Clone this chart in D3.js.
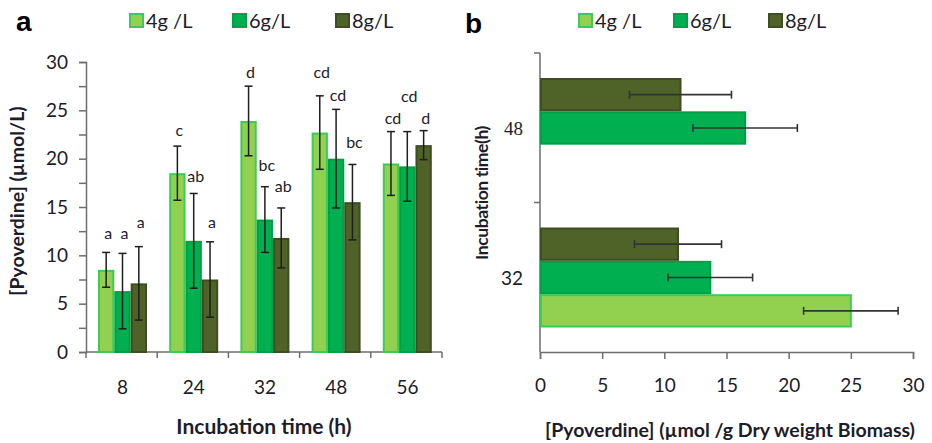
<!DOCTYPE html>
<html>
<head>
<meta charset="utf-8">
<script src="https://cdn.jsdelivr.net/npm/d3@7"></script>
<style>
  body { margin: 0; background: #fff; }
  svg { display: block; font-family: Lato, "Open Sans", sans-serif; }
  .axis path, .axis line { stroke: #6e6e6e; stroke-width: 1.5; }
  .axis text { fill: #1c1c2a; font-family: Lato, sans-serif; font-size: 19px; }
</style>
</head>
<body>
<div id="chart"></div>
<script>
// panel a data: pyoverdine (µmol/L) per incubation time
const timesA = ["8", "24", "32", "48", "56"];
const seriesNames = ["4g/L", "6g/L", "8g/L"];
const legendLabels = ["4g /L", "6g/L", "8g/L"];
const meanA4 = [8.5, 18.5, 23.9, 22.7, 19.5];
const sdA4 = [1.8, 2.8, 3.6, 3.8, 3.3];
const meanA6 = [6.3, 11.5, 13.7, 20.0, 19.2];
const sdA6 = [3.9, 4.9, 3.4, 5.1, 3.6];
const meanA8 = [7.1, 7.5, 11.8, 15.5, 21.4];
const sdA8 = [3.8, 3.9, 3.1, 3.9, 1.5];
const lettersA4 = ["a", "c", "d", "cd", "cd"];
const lettersA6 = ["a", "ab", "bc", "cd", "cd"];
const lettersA8 = ["a", "a", "ab", "bc", "d"];
// height (in µmol/L) where each letter sits
const letterAtA4 = [12.3, 22.9, 28.9, 28.9, 24.2];
const letterAtA6 = [12.3, 18.2, 19.3, 26.5, 26.4];
const letterAtA8 = [13.4, 13.4, 17.1, 21.7, 24.2];
const ticksA = [0, 2.5, 5, 7.5, 10, 12.5, 15, 17.5, 20, 22.5, 25, 27.5, 30];

// panel b data: pyoverdine (µmol/g dry weight biomass)
const timesB = ["48", "32"];
const meanB4 = [null, 25.0];
const sdB4 = [null, 3.8];
const meanB6 = [16.5, 13.7];
const sdB6 = [4.2, 3.4];
const meanB8 = [11.3, 11.1];
const sdB8 = [4.1, 3.5];
const ticksB = [0, 5, 10, 15, 20, 25, 30];

const fills = ["#92d050", "#00b050", "#4f6228"];
const strokes = ["#3ccc55", "#00a044", "#3f4d22"];

let width = 932, height = 443;
let svg = d3.select("#chart").append("svg")
    .attr("width", width)
    .attr("height", height);

// build rows
let rowsA = [];
timesA.forEach((t, i) => {
    [[meanA4, sdA4, lettersA4, letterAtA4], [meanA6, sdA6, lettersA6, letterAtA6], [meanA8, sdA8, lettersA8, letterAtA8]]
        .forEach((s, k) => {
            rowsA.push({ time: t, series: seriesNames[k], k: k, mean: s[0][i], sd: s[1][i], letter: s[2][i], letterAt: s[3][i] });
        });
});
let rowsB = [];
timesB.forEach((t, i) => {
    [[meanB4, sdB4], [meanB6, sdB6], [meanB8, sdB8]].forEach((s, k) => {
        if (s[0][i] != null) rowsB.push({ time: t, series: seriesNames[k], k: k, mean: s[0][i], sd: s[1][i] });
    });
});

// ---------- panel a ----------
let x0 = d3.scaleBand().domain(timesA).range([86, 442]);
let x1 = d3.scaleBand().domain(seriesNames).range([12, 61]);
let yA = d3.scaleLinear().domain([0, 30]).range([352, 62]);

let gA = svg.append("g");

gA.append("g")
    .attr("class", "axis")
    .attr("transform", "translate(86,0)")
    .call(d3.axisLeft(yA).tickValues(ticksA).tickSize(7).tickPadding(11)
        .tickFormat(d => d % 5 === 0 ? d : ""));

let xAxisA = gA.append("g")
    .attr("class", "axis")
    .attr("transform", "translate(0,352)");
xAxisA.append("line").attr("x1", 86).attr("x2", 442).attr("stroke", "#6e6e6e").attr("stroke-width", 1.5);
xAxisA.selectAll(".tk").data(timesA.concat(["end"])).enter().append("line")
    .attr("x1", (d, i) => i < timesA.length ? x0(d) : x0.range()[1])
    .attr("x2", (d, i) => i < timesA.length ? x0(d) : x0.range()[1])
    .attr("y1", 0).attr("y2", 6)
    .attr("stroke", "#6e6e6e").attr("stroke-width", 1.5);
xAxisA.selectAll(".lb").data(timesA).enter().append("text")
    .attr("x", d => x0(d) + x0.bandwidth() / 2 + 1)
    .attr("y", 42)
    .attr("text-anchor", "middle")
    .text(d => d);

gA.append("g").selectAll("rect").data(rowsA).enter().append("rect")
    .attr("x", d => x0(d.time) + x1(d.series) + 1)
    .attr("y", d => yA(d.mean) + 1)
    .attr("width", x1.bandwidth() - 2)
    .attr("height", d => yA(0) - yA(d.mean) - 1)
    .attr("fill", d => fills[d.k])
    .attr("stroke", d => strokes[d.k])
    .attr("stroke-width", 2);

let errA = gA.append("g").attr("stroke", "#1e1e1e").attr("stroke-width", 1.5);
rowsA.forEach(d => {
    let cx = x0(d.time) + x1(d.series) + x1.bandwidth() / 2;
    errA.append("line").attr("x1", cx).attr("x2", cx).attr("y1", yA(d.mean - d.sd)).attr("y2", yA(d.mean + d.sd));
    errA.append("line").attr("x1", cx - 4).attr("x2", cx + 4).attr("y1", yA(d.mean - d.sd)).attr("y2", yA(d.mean - d.sd));
    errA.append("line").attr("x1", cx - 4).attr("x2", cx + 4).attr("y1", yA(d.mean + d.sd)).attr("y2", yA(d.mean + d.sd));
});

gA.append("g").selectAll("text").data(rowsA).enter().append("text")
    .attr("x", d => x0(d.time) + x1(d.series) + x1.bandwidth() / 2 + 2)
    .attr("y", d => yA(d.letterAt))
    .attr("dy", "0.35em")
    .attr("text-anchor", "middle")
    .attr("font-size", 16)
    .attr("fill", "#1c1c2a")
    .text(d => d.letter);

// ---------- panel b ----------
let yB0 = d3.scaleBand().domain(timesB).range([53, 352]);
let yB1 = d3.scaleBand().domain(seriesNames.slice().reverse()).range([25, 125]);
let xB = d3.scaleLinear().domain([0, 30]).range([540, 913]);

let gB = svg.append("g");

gB.append("g")
    .attr("class", "axis")
    .attr("transform", "translate(0,352)")
    .call(d3.axisBottom(xB).tickValues(ticksB).tickSize(7).tickPadding(20));

let yAxisB = gB.append("g").attr("class", "axis");
yAxisB.append("line").attr("x1", 540).attr("x2", 540).attr("y1", 53).attr("y2", 352)
    .attr("stroke", "#6e6e6e").attr("stroke-width", 1.5);
yAxisB.selectAll(".tk").data(timesB).enter().append("line")
    .attr("x1", 534).attr("x2", 540)
    .attr("y1", d => yB0(d)).attr("y2", d => yB0(d))
    .attr("stroke", "#6e6e6e").attr("stroke-width", 1.5);
yAxisB.selectAll(".lb").data(timesB).enter().append("text")
    .attr("x", 523)
    .attr("y", d => yB0(d) + yB0.bandwidth() / 2 + 1)
    .attr("dy", "0.35em")
    .attr("text-anchor", "end")
    .style("font-family", d => d === "48" ? "'Liberation Serif', serif" : null)
    .text(d => d);

gB.append("g").selectAll("rect").data(rowsB).enter().append("rect")
    .attr("x", xB(0) + 1)
    .attr("y", d => yB0(d.time) + yB1(d.series) + 1)
    .attr("width", d => xB(d.mean) - xB(0) - 1)
    .attr("height", yB1.bandwidth() - 2)
    .attr("fill", d => fills[d.k])
    .attr("stroke", d => strokes[d.k])
    .attr("stroke-width", 2);

let errB = gB.append("g").attr("stroke", "#333").attr("stroke-width", 1.6);
rowsB.forEach(d => {
    let cy = yB0(d.time) + yB1(d.series) + yB1.bandwidth() / 2;
    errB.append("line").attr("y1", cy).attr("y2", cy).attr("x1", xB(d.mean - d.sd)).attr("x2", xB(d.mean + d.sd));
    errB.append("line").attr("y1", cy - 4).attr("y2", cy + 4).attr("x1", xB(d.mean - d.sd)).attr("x2", xB(d.mean - d.sd));
    errB.append("line").attr("y1", cy - 4).attr("y2", cy + 4).attr("x1", xB(d.mean + d.sd)).attr("x2", xB(d.mean + d.sd));
});

// ---------- legends ----------
function legend(x, step) {
    let lg = svg.append("g").attr("transform", "translate(" + x + ",13)");
    let item = lg.selectAll("g").data(legendLabels).enter().append("g")
        .attr("transform", (d, i) => "translate(" + (i * step) + ",0)");
    item.append("rect")
        .attr("x", 1).attr("y", 1).attr("width", 13).attr("height", 13)
        .attr("fill", (d, i) => fills[i])
        .attr("stroke", (d, i) => strokes[i])
        .attr("stroke-width", 2);
    item.append("text")
        .attr("x", 17).attr("y", 7.5).attr("dy", "0.35em")
        .attr("font-size", 20)
        .attr("fill", "#1c1c2a")
        .text(d => d);
}
legend(129, 103);
legend(578, 95);

// ---------- titles ----------
svg.append("text").attr("x", 16).attr("y", 31)
    .attr("font-family", "'Liberation Sans', Arial, sans-serif")
    .attr("font-weight", "bold").attr("font-size", 28).text("a");
svg.append("text").attr("x", 465).attr("y", 33)
    .attr("font-family", "'Liberation Sans', Arial, sans-serif")
    .attr("font-weight", "bold").attr("font-size", 28).text("b");

svg.append("text").attr("x", 264).attr("y", 434)
    .attr("text-anchor", "middle").attr("font-weight", "bold").attr("font-size", 21)
    .attr("fill", "#1c1c2a").text("Incubation time (h)");
svg.append("text").attr("transform", "translate(24,201) rotate(-90)")
    .attr("text-anchor", "middle").attr("font-weight", "bold").attr("font-size", 19.5)
    .attr("fill", "#1c1c2a").text("[Pyoverdine] (µmol/L)");
svg.append("text").attr("x", 730).attr("y", 437)
    .attr("text-anchor", "middle").attr("font-weight", "bold").attr("font-size", 19.5)
    .attr("fill", "#1c1c2a").text("[Pyoverdine] (µmol /g Dry weight Biomass)");
svg.append("text").attr("transform", "translate(488,193) rotate(-90)")
    .attr("text-anchor", "middle").attr("font-weight", "bold").attr("font-size", 17.5)
    .attr("letter-spacing", -0.4)
    .attr("fill", "#1c1c2a").text("Incubation time(h)");
</script>
</body>
</html>
